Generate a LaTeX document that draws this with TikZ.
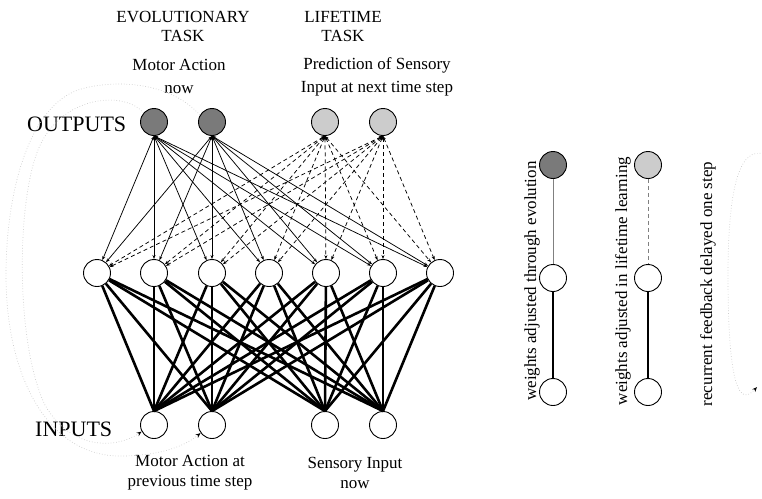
\documentclass[tikz,border=0pt]{standalone}
\usepackage{fontspec}
\setmainfont{Liberation Serif}
\usetikzlibrary{arrows.meta}
\definecolor{evogray}{RGB}{122,122,122}
\definecolor{lifegray}{RGB}{204,204,204}
\definecolor{loopgray}{RGB}{205,205,205}
\begin{document}
\begin{tikzpicture}[x=1pt,y=-1pt,
  neuron/.style={circle,draw,line width=0.9pt,minimum size=27pt,inner sep=0pt,fill=white},
  evo/.style={neuron,fill=evogray},
  life/.style={neuron,fill=lifegray},
  lbl/.style={font=\fontsize{17}{20}\selectfont,align=center,inner sep=0pt},
  lblwide/.style={font=\fontsize{17}{23}\selectfont,align=center,inner sep=0pt},
  big/.style={font=\fontsize{22}{24}\selectfont,inner sep=0pt},
  evoline/.style={line width=0.75pt,{Stealth[length=4pt,width=3pt]}-{Stealth[length=4pt,width=3pt]}},
  lifeline/.style={evoline,dash pattern=on 4pt off 3pt},
  inline/.style={line width=2.6pt},
  loop/.style={loopgray,dotted,line width=0.7pt,-{Stealth[length=5pt,width=4pt,color=black,open]}},
  legevo/.style={gray,line width=0.9pt},
  leglife/.style={gray,line width=0.9pt,dash pattern=on 4pt off 3pt},
]
\useasboundingbox (0,0) rectangle (762,498);

% headings
\node[lbl,font=\fontsize{17}{19}\selectfont] (hevo) at (183,26.5) {EVOLUTIONARY\\TASK};
\node[lbl,font=\fontsize{17}{19}\selectfont] (hlife) at (343,26.5) {LIFETIME\\TASK};
\node[lblwide] (tma) at (179,76.5) {Motor Action\\now};
\node[lblwide] (tpred) at (377,76.5) {Prediction of Sensory\\Input at next time step};
\node[big,anchor=west] (tout) at (27,124.5) {OUTPUTS};
\node[big,anchor=west] (tin) at (35,429) {INPUTS};
\node[lbl] (tmp) at (190,473) {Motor Action at\\previous time step};
\node[lbl] (tsi) at (355,473) {Sensory Input\\now};

% outputs
\node[evo] (o1) at (154,122) {};
\node[evo] (o2) at (212,122) {};
\node[life] (o3) at (325,122) {};
\node[life] (o4) at (383,122) {};
% hidden
\foreach \x [count=\k] in {97,154,212,269,326,383,440}
  \node[neuron] (h\k) at (\x,273) {};
% inputs
\node[neuron] (i1) at (154,425) {};
\node[neuron] (i2) at (212,425) {};
\node[neuron] (i3) at (325,425) {};
\node[neuron] (i4) at (383,425) {};

% connections
\foreach \o in {o1,o2}
  \foreach \h in {1,...,7}
    \draw[evoline] (\o.south) -- (h\h);
\foreach \o in {o3,o4}
  \foreach \h in {1,...,7}
    \draw[lifeline] (\o.south) -- (h\h);
\foreach \i in {i1,i2,i3,i4}
  \foreach \h in {1,...,7}
    \draw[inline] (\i.north) -- (h\h);

% recurrent feedback loops
\draw[loop] (o1.140) .. controls (125,90) and (60,95) .. (38,150)
  .. controls (16,205) and (16,345) .. (45,405)
  .. controls (72,452) and (118,448) .. (i1.208);
\draw[loop] (o2.150) .. controls (172,84) and (122,79) .. (85,88)
  .. controls (30,100) and (6,190) .. (6,275)
  .. controls (6,380) and (50,456) .. (120,456)
  .. controls (160,456) and (185,446) .. (i2.215);

% legend
\node[evo] (l1a) at (553,165) {};
\node[neuron] (l1b) at (553,278) {};
\node[neuron] (l1c) at (553,392) {};
\draw[legevo] (l1a) -- (l1b);
\draw[inline] (l1b) -- (l1c);
\node[life] (l2a) at (648,165) {};
\node[neuron] (l2b) at (648,278) {};
\node[neuron] (l2c) at (648,392) {};
\draw[leglife] (l2a) -- (l2b);
\draw[inline] (l2b) -- (l2c);
\node[lbl,rotate=90] (t1) at (532,281) {weights adjusted through evolution};
\node[lbl,rotate=90] (t2) at (623,281) {weights adjusted in lifetime learning};
\node[lbl,rotate=90] (t3) at (708,284) {recurrent feedback delayed one step};
\coordinate (ls) at (775,160);
\coordinate (le) at (757,387);
\draw[loop] (ls) .. controls (748,140) and (728,160) .. (728,275)
  .. controls (728,390) and (740,406) .. (le);
\end{tikzpicture}
\end{document}
